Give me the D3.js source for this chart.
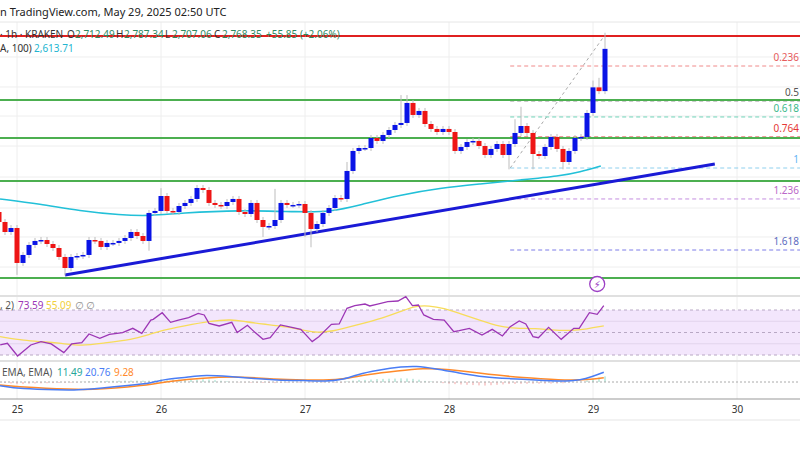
<!DOCTYPE html>
<html>
<head>
<meta charset="utf-8">
<script src="https://cdn.jsdelivr.net/npm/d3@7"></script>
<style>
  body { margin: 0; background: #fff; }
  svg { display: block; font-family: "Noto Sans", "DejaVu Sans", sans-serif; }
</style>
</head>
<body>
<div id="chart"></div>
<script>
// hourly candles, index 1 = May 24 21:00 UTC (index 4 = May 25 00:00)
var firstOpen = 2531.8;
var closes = [2517.3, 2502.8, 2508.6, 2457.9, 2469.5, 2484.0, 2489.8, 2491.2, 2485.4, 2479.6,
  2466.6, 2450.6, 2466.6, 2468.0, 2469.5, 2491.2, 2489.8, 2481.1, 2486.9, 2486.9,
  2489.8, 2494.1, 2502.8, 2497.0, 2489.8, 2530.4, 2533.3, 2555.0, 2533.3, 2531.8,
  2540.5, 2544.9, 2550.7, 2566.6, 2563.7, 2544.9, 2542.0, 2540.5, 2546.3, 2550.7,
  2531.8, 2528.9, 2544.9, 2520.2, 2510.1, 2511.5, 2520.2, 2544.9, 2542.0, 2542.0,
  2543.4, 2530.4, 2507.2, 2514.4, 2530.4, 2537.6, 2552.1, 2550.7, 2591.3, 2620.3,
  2624.6, 2624.6, 2639.1, 2634.8, 2643.5, 2650.7, 2658.0, 2660.9, 2689.9, 2672.5,
  2678.3, 2659.4, 2652.2, 2647.8, 2652.2, 2647.8, 2620.3, 2626.1, 2633.3, 2634.8,
  2627.5, 2614.5, 2623.2, 2630.4, 2614.5, 2630.4, 2646.4, 2656.5, 2646.4, 2615.9,
  2613.0, 2626.1, 2640.6, 2623.2, 2604.3, 2620.3, 2639.1, 2640.6, 2675.4, 2712.5,
  2707.1, 2768.35];
// notable wicks (candle index -> price)
var wickHigh = {28: 2562, 47: 2561, 59: 2600, 68: 2697, 69: 2697, 87: 2662, 88: 2680, 100: 2718, 101: 2722, 102: 2787.34};
var wickLow = {4: 2445, 12: 2444, 26: 2480, 45: 2500, 52: 2500, 53: 2485, 86: 2598, 90: 2598, 95: 2598, 102: 2707.06};

var maHour = [1.17, 7.8, 14.5, 21.2, 26.2, 31.2, 41.2, 51.2, 56.2, 61.2, 67.8, 74.5, 81.2, 87.8, 94.5, 97.8, 101.3];
var maVal = [2550.7, 2543.4, 2533.3, 2527.4, 2526.0, 2530.4, 2534.7, 2531.8, 2531.8, 2542.0, 2556.5, 2566.6, 2572.4, 2578.2, 2584.0, 2589.8, 2598.5];

var greenLevels = [2694.2, 2639.1, 2576.8, 2436.1];
var redLevel = 2787;
var gridPrices = [2756.6, 2713.1, 2671.0, 2627.5, 2582.5, 2537.6, 2495.6, 2452.0];
var trendHour = [12, 120.3];
var trendVal = [2440.4, 2601.4];

var fibNames = ["0.236", "0.5", "0.618", "0.764", "1", "1.236", "1.618"];
var fibPrices = [2743.5, 2692.8, 2669.6, 2640.6, 2595.6, 2550.7, 2476.7];
var fibColors = ["#f08a8a", "#8a8a8a", "#6fd3b8", "#e04848", "#8fd0ee", "#c48ee0", "#7c7ce8"];
var fibLabelColors = ["#e65b5b", "#555555", "#3bb98a", "#e53935", "#64b5f6", "#ba68c8", "#5c6bc0"];
var fibStartHour = 86.2;

var rsiHour = [1.2, 2.4, 4.1, 6.3, 8.0, 9.7, 11.8, 13.1, 14.8, 16.0, 17.8, 19.4, 21.6, 23.3, 24.8, 26.3, 26.7, 28.2, 29.6, 30.9,
  32.6, 34.2, 35.2, 36.0, 37.7, 39.8, 40.7, 42.4, 43.7, 45.0, 46.2, 47.9, 50, 51.3, 53.2, 54.3, 56.4, 57.7, 59, 60.3,
  62, 62.8, 64.1, 65.8, 67.5, 68.8, 69.9, 70.9, 71.8, 73.4, 75.2, 76.8, 77.7, 79.4, 81.5, 83.2, 84.9, 86.2, 87.7, 88.8,
  90, 90.9, 92.6, 94.7, 96.8, 97.7, 99.4, 100.7, 101.8];
var rsiVal = [38.9, 40.4, 29.1, 38.9, 41.9, 39.8, 32.1, 39.8, 41.0, 48.7, 44.8, 48.4, 49.9, 53.7, 49.3, 61.1, 61.7, 67.6, 59.0, 61.1,
  63.2, 67.0, 65.6, 58.1, 55.8, 59.0, 49.9, 56.4, 49.9, 43.9, 45.4, 56.7, 54.3, 52.8, 41.9, 46.3, 57.3, 57.6, 71.5, 73.9,
  75.3, 73.6, 75.3, 77.4, 78.0, 81.9, 73.9, 74.4, 65.6, 61.7, 61.1, 50.7, 51.6, 53.7, 47.8, 52.8, 46.9, 55.2, 60.2, 57.6,
  46.3, 45.4, 54.6, 43.9, 53.7, 53.7, 67.6, 66.1, 73.9];
var rsiMaHour = [1.17, 5.4, 8.0, 11.4, 14.8, 18.2, 23.3, 25.8, 28.4, 31.8, 36.0, 39.9, 42.0, 45.4, 48.8, 52.2, 53.9, 56.4, 60.7, 64.9,
  68.3, 70.5, 72.6, 75.2, 77.7, 81.1, 84.5, 87.0, 90.5, 93.0, 96.4, 98.9, 101.8];
var rsiMaVal = [46.3, 42.7, 41.9, 40.4, 38.0, 40.4, 43.9, 47.8, 52.2, 55.8, 60.2, 61.7, 59.6, 57.3, 55.2, 51.6, 49.9, 50.7, 56.7, 62.6,
  69.4, 73.6, 73.9, 71.5, 67.0, 61.1, 55.2, 53.7, 53.7, 52.2, 51.6, 53.1, 55.8];

var macdHour = [1.17, 4.57, 11.4, 13.9, 18.2, 22.4, 26.7, 28.4, 33.5, 35.2, 39.4, 43.7, 47.1, 52.2, 55.6, 58.1, 60.7, 64.1, 68.3, 70.5,
  73.4, 77.7, 81.9, 86.2, 90.4, 94.7, 98.1, 99.8, 101.8];
var macdVal = [-7.8, -15, -16.8, -17.4, -12.6, -7.8, -1.8, 6, 11.4, 15, 12, 7.2, 4.2, 3, 1.8, 4.2, 16.2, 25.2, 33, 34.2,
  29.4, 19.2, 10.2, 7.2, 4.2, 1.2, 4.2, 11.4, 20.76];
var signalHour = [1.17, 6.3, 14.8, 18.2, 22.4, 26.7, 29.2, 35.2, 40.3, 43.7, 48.8, 55.6, 59, 62.4, 67.5, 71.8, 75.2, 81.1, 86.2, 91.3,
  96.4, 99.8, 101.8];
var signalVal = [-6.6, -12, -16.8, -15, -10.8, -4.8, 1.2, 9, 11.4, 9, 5.4, 3, 7.2, 16.2, 24, 29.4, 28.2, 19.2, 11.4, 7.2,
  3, 5.4, 9.28];

var dayTicks = [25, 26, 27, 28, 29, 30];

var W = 800, H = 449;
var svg = d3.select("#chart").append("svg").attr("width", W).attr("height", H);

var t0 = Date.UTC(2025, 4, 24, 20);
var hourDate = function (h) { return new Date(t0 + h * 3600e3); };
var x = d3.scaleUtc().domain([new Date(Date.UTC(2025, 4, 25)), new Date(Date.UTC(2025, 4, 30))]).range([17, 737]);
var xh = function (h) { return x(hourDate(h)); };
var y = d3.scaleLinear().domain([2436.1, 2787]).range([278, 36]);
var yRsi = d3.scaleLinear().domain([30, 70]).range([355, 310]);
var yMacd = d3.scaleLinear().domain([0, 20.76]).range([382, 372.3]);

// grid
var grid = svg.append("g").attr("stroke", "#eeeeee").attr("stroke-width", 1);
grid.selectAll(".vg").data(dayTicks).enter().append("line")
  .attr("x1", function (d) { return x(new Date(Date.UTC(2025, 4, d))); })
  .attr("x2", function (d) { return x(new Date(Date.UTC(2025, 4, d))); })
  .attr("y1", 22).attr("y2", 399);
grid.selectAll(".hg").data(gridPrices).enter().append("line")
  .attr("x1", 0).attr("x2", W).attr("y1", function (d) { return y(d); }).attr("y2", function (d) { return y(d); });
svg.append("line").attr("x1", 0).attr("x2", W).attr("y1", 22).attr("y2", 22).attr("stroke", "#e6e6e6");

// fib retracement
svg.append("line").attr("x1", xh(fibStartHour)).attr("y1", y(2595.6)).attr("x2", xh(101.9)).attr("y2", y(2787.34))
  .attr("stroke", "#aaaaaa").attr("stroke-dasharray", "3,3");
svg.selectAll(".fib").data(fibPrices).enter().append("line")
  .attr("x1", xh(fibStartHour)).attr("x2", W)
  .attr("y1", function (d) { return y(d); }).attr("y2", function (d) { return y(d); })
  .attr("stroke", function (d, i) { return fibColors[i]; }).attr("stroke-dasharray", "4,3");
svg.selectAll(".fibl").data(fibPrices).enter().append("text")
  .attr("x", 799).attr("y", function (d) { return y(d) - 5; })
  .attr("text-anchor", "end").attr("font-size", 10)
  .attr("fill", function (d, i) { return fibLabelColors[i]; })
  .text(function (d, i) { return fibNames[i]; });

// level lines
svg.selectAll(".gl").data(greenLevels).enter().append("line")
  .attr("x1", 0).attr("x2", W).attr("y1", function (d) { return y(d); }).attr("y2", function (d) { return y(d); })
  .attr("stroke", "#4caf50").attr("stroke-width", 2);
svg.append("line").attr("x1", 0).attr("x2", W).attr("y1", y(redLevel)).attr("y2", y(redLevel))
  .attr("stroke", "#e02020").attr("stroke-width", 2);

// moving average
var maPts = maHour.map(function (h, i) { return [xh(h), y(maVal[i])]; });
svg.append("path").attr("d", d3.line().curve(d3.curveBasis)(maPts))
  .attr("fill", "none").attr("stroke", "#22c0d8").attr("stroke-width", 1.6);

// trend line
svg.append("line").attr("x1", xh(trendHour[0])).attr("y1", y(trendVal[0]))
  .attr("x2", xh(trendHour[1])).attr("y2", y(trendVal[1]))
  .attr("stroke", "#1a1ad6").attr("stroke-width", 3);

// candles
var candles = closes.map(function (c, i) {
  var o = i === 0 ? firstOpen : closes[i - 1];
  var idx = i + 1;
  return { i: idx, o: o, c: c,
    h: wickHigh[idx] !== undefined ? wickHigh[idx] : Math.max(o, c),
    l: wickLow[idx] !== undefined ? wickLow[idx] : Math.min(o, c) };
});
var cg = svg.append("g");
cg.selectAll(".wick").data(candles).enter().append("line")
  .attr("x1", function (d) { return xh(d.i); }).attr("x2", function (d) { return xh(d.i); })
  .attr("y1", function (d) { return y(d.h) - 3; }).attr("y2", function (d) { return y(d.l) + 3; })
  .attr("stroke", "#bdbdbd");
cg.selectAll(".body").data(candles).enter().append("rect")
  .attr("x", function (d) { return xh(d.i) - 2.5; }).attr("width", 5)
  .attr("y", function (d) { return y(Math.max(d.o, d.c)); })
  .attr("height", function (d) { return Math.max(1.5, Math.abs(y(d.o) - y(d.c))); })
  .attr("fill", function (d) { return d.c >= d.o ? "#0a14e6" : "#ee1515"; });

// lightning marker
svg.append("circle").attr("cx", xh(100.7)).attr("cy", 284).attr("r", 7.5)
  .attr("fill", "#fff").attr("stroke", "#9c3fc4").attr("stroke-width", 1.3);
svg.append("text").attr("x", xh(100.7)).attr("y", 288).attr("text-anchor", "middle")
  .attr("font-size", 10).attr("fill", "#9c3fc4").text("⚡");

// RSI pane
svg.append("line").attr("x1", 0).attr("x2", W).attr("y1", 296).attr("y2", 296).attr("stroke", "#e0e0e0").attr("stroke-width", 2);
svg.append("rect").attr("x", 0).attr("width", W).attr("y", yRsi(70)).attr("height", yRsi(30) - yRsi(70)).attr("fill", "#f3e6fc");
svg.selectAll(".rl").data([70, 50, 30]).enter().append("line")
  .attr("x1", 0).attr("x2", W).attr("y1", function (d) { return yRsi(d); }).attr("y2", function (d) { return yRsi(d); })
  .attr("stroke", "#b8a8c4").attr("stroke-dasharray", "3,3");
svg.selectAll(".rl2").data([60, 40]).enter().append("line")
  .attr("x1", 0).attr("x2", W).attr("y1", function (d) { return yRsi(d); }).attr("y2", function (d) { return yRsi(d); })
  .attr("stroke", "#e2d4ec");
svg.append("path").attr("d", d3.line().curve(d3.curveBasis)(rsiMaHour.map(function (h, i) { return [xh(h), yRsi(rsiMaVal[i])]; })))
  .attr("fill", "none").attr("stroke", "#f7dc5a").attr("stroke-width", 1.3);
svg.append("path").attr("d", d3.line()(rsiHour.map(function (h, i) { return [xh(h), yRsi(rsiVal[i])]; })))
  .attr("fill", "none").attr("stroke", "#9c36b5").attr("stroke-width", 1.3);

// MACD pane
svg.append("line").attr("x1", 0).attr("x2", W).attr("y1", 361).attr("y2", 361).attr("stroke", "#e0e0e0").attr("stroke-width", 2);
var macdAt = d3.scaleLinear().domain(macdHour).range(macdVal);
var sigAt = d3.scaleLinear().domain(signalHour).range(signalVal);
svg.selectAll(".hist").data(candles.filter(function (d) { return d.i >= 2; })).enter().append("line")
  .attr("x1", function (d) { return xh(d.i); }).attr("x2", function (d) { return xh(d.i); })
  .attr("y1", yMacd(0)).attr("y2", function (d) { return yMacd(macdAt(d.i) - sigAt(d.i)); })
  .attr("stroke", function (d) { return macdAt(d.i) - sigAt(d.i) >= 0 ? "#8fd6c2" : "#f2a3a3"; });
svg.append("line").attr("x1", 0).attr("x2", W).attr("y1", yMacd(0)).attr("y2", yMacd(0))
  .attr("stroke", "#aaaaaa").attr("stroke-dasharray", "2,2");
svg.append("path").attr("d", d3.line().curve(d3.curveBasis)(signalHour.map(function (h, i) { return [xh(h), yMacd(signalVal[i])]; })))
  .attr("fill", "none").attr("stroke", "#ff8a2a").attr("stroke-width", 1.5);
svg.append("path").attr("d", d3.line().curve(d3.curveBasis)(macdHour.map(function (h, i) { return [xh(h), yMacd(macdVal[i])]; })))
  .attr("fill", "none").attr("stroke", "#4a7df5").attr("stroke-width", 1.5);

// time axis
svg.append("line").attr("x1", 0).attr("x2", W).attr("y1", 399).attr("y2", 399).attr("stroke", "#999999");
svg.append("line").attr("x1", 0).attr("x2", W).attr("y1", 420).attr("y2", 420).attr("stroke", "#f2f2f2").attr("stroke-width", 2);
var xAxis = d3.axisBottom(x).tickValues(dayTicks.map(function (d) { return new Date(Date.UTC(2025, 4, d)); }))
  .tickFormat(d3.utcFormat("%-d")).tickSize(0).tickPadding(6);
var ax = svg.append("g").attr("transform", "translate(0,400)").call(xAxis);
ax.select(".domain").remove();
ax.selectAll("text").attr("font-size", 10).attr("fill", "#333").attr("font-family", "Noto Sans, sans-serif");

// header texts: [x, text, colour] pieces per row
var pieces = function (yy, list) {
  list.forEach(function (p) {
    svg.append("text").attr("x", p[0]).attr("y", yy).attr("font-size", 10).attr("fill", p[2]).text(p[1]);
  });
};
svg.append("text").attr("x", 0).attr("y", 16).attr("font-size", 11).attr("fill", "#222")
  .text("n TradingView.com, May 29, 2025 02:50 UTC");
var valCol = "#2f8a5f";
pieces(38, [[0, "· 1h · KRAKEN", "#333"], [67, "O", "#333"], [75, "2,712.49", valCol],
  [116, "H", "#333"], [124, "2,787.34", valCol], [165, "L", "#333"], [172, "2,707.06", valCol],
  [214, "C", "#333"], [222, "2,768.35", valCol], [266, "+55.85 (+2.06%)", valCol]]);
pieces(52, [[0, "A, 100)", "#333"], [34, "2,613.71", "#22b5d0"]]);
pieces(309, [[0, ", 2)", "#555"], [18, "73.59", "#9c36b5"], [46, "55.09", "#f2cf3a"], [75, "∅", "#888"], [86, "∅", "#888"]]);
pieces(376, [[2, "EMA, EMA)", "#555"], [57, "11.49", "#26a69a"], [85, "20.76", "#4a7df5"], [114, "9.28", "#ff8a2a"]]);
</script>
</body>
</html>
